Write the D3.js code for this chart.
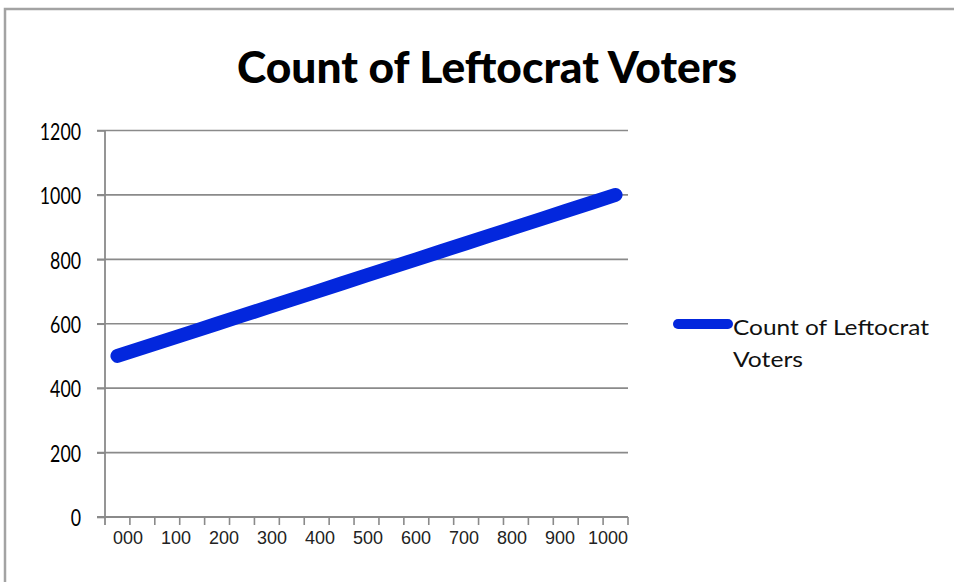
<!DOCTYPE html>
<html>
<head>
<meta charset="utf-8">
<script src="https://cdn.jsdelivr.net/npm/d3@7"></script>
<style>
  html, body { margin: 0; padding: 0; background: #fff; }
  svg { display: block; }
</style>
</head>
<body>
<svg id="chart" width="954" height="582"></svg>
<script>
// Series: one reading per step along the category axis
const steps = [0, 1, 2, 3, 4, 5, 6, 7, 8, 9, 10, 11, 12, 13, 14, 15, 16, 17, 18, 19, 20];
const voters = [500, 525, 550, 575, 600, 625, 650, 675, 700, 725, 750,
                775, 800, 825, 850, 875, 900, 925, 950, 975, 1000];
// Category axis labels
const xLabels = ["000", "100", "200", "300", "400", "500", "600", "700", "800", "900", "1000"];
// Value axis ticks
const yTicks = [0, 200, 400, 600, 800, 1000, 1200];
const titleText = "Count of Leftocrat Voters";
const legendLines = ["Count of Leftocrat", "Voters"];

const svg = d3.select("#chart");
const blue = "#0327dd";
const gridColor = "#8a8a8a";

// outer frame
svg.append("rect")
  .attr("x", 5).attr("y", 9)
  .attr("width", 970).attr("height", 600)
  .attr("fill", "none")
  .attr("stroke", "#a3a3a3")
  .attr("stroke-width", 2.5);

const plot = { left: 105, right: 628, top: 130.5, bottom: 517 };

const x = d3.scaleBand().domain(steps).range([plot.left, plot.right]);
const xLab = d3.scalePoint().domain(xLabels).range([128, 608]);
const y = d3.scaleLinear().domain([0, 1200]).range([plot.bottom, plot.top]);

// title
svg.append("text")
  .attr("x", 487).attr("y", 83)
  .attr("text-anchor", "middle")
  .attr("font-family", "Lato, 'Open Sans', sans-serif")
  .attr("font-weight", 900)
  .attr("font-size", 43)
  .attr("textLength", 500)
  .attr("lengthAdjust", "spacingAndGlyphs")
  .attr("fill", "#000")
  .text(titleText);

// horizontal gridlines
svg.append("g")
  .selectAll("line")
  .data(yTicks.filter(d => d > 0))
  .join("line")
  .attr("x1", plot.left - 8).attr("x2", plot.right)
  .attr("y1", d => y(d)).attr("y2", d => y(d))
  .attr("stroke", gridColor)
  .attr("stroke-width", 1.6);

// value axis
const yAxis = svg.append("g")
  .attr("transform", `translate(${plot.left},0)`)
  .call(d3.axisLeft(y).tickValues(yTicks).tickFormat(d3.format("d")).tickSize(8).tickPadding(16));
yAxis.select(".domain").remove();
yAxis.append("line")
  .attr("x1", 0).attr("x2", 0)
  .attr("y1", plot.top).attr("y2", plot.bottom + 8)
  .attr("stroke", gridColor).attr("stroke-width", 1.8);
yAxis.selectAll(".tick line").attr("stroke", gridColor).attr("stroke-width", 1.6);
yAxis.selectAll(".tick text")
  .attr("font-family", "Lato, 'Open Sans', sans-serif")
  .attr("font-size", 23)
  .attr("textLength", d => String(d).length * 10.3)
  .attr("lengthAdjust", "spacingAndGlyphs")
  .attr("fill", "#000")
  .attr("dy", "0.38em");

// category axis line and tick marks at band edges
const xEdges = steps.map(s => x(s)).concat([plot.right]);
svg.append("line")
  .attr("x1", plot.left - 8).attr("x2", plot.right)
  .attr("y1", plot.bottom).attr("y2", plot.bottom)
  .attr("stroke", gridColor).attr("stroke-width", 1.8);
svg.append("g")
  .selectAll("line")
  .data(xEdges.slice(1))
  .join("line")
  .attr("x1", d => d).attr("x2", d => d)
  .attr("y1", plot.bottom).attr("y2", plot.bottom + 8)
  .attr("stroke", gridColor).attr("stroke-width", 1.6);

// category labels
svg.append("g")
  .selectAll("text")
  .data(xLabels)
  .join("text")
  .attr("x", d => xLab(d))
  .attr("y", 544)
  .attr("text-anchor", "middle")
  .attr("font-family", "'Liberation Sans', Arial, sans-serif")
  .attr("font-size", 18.5)
  .attr("textLength", d => d.length * 10)
  .attr("lengthAdjust", "spacingAndGlyphs")
  .attr("fill", "#222")
  .text(d => d);

// series line
const line = d3.line()
  .x((d, i) => x(steps[i]) + x.bandwidth() / 2)
  .y(d => y(d));
svg.append("path")
  .datum(voters)
  .attr("d", line)
  .attr("fill", "none")
  .attr("stroke", blue)
  .attr("stroke-width", 14)
  .attr("stroke-linecap", "round")
  .attr("stroke-linejoin", "round");

// legend
const legend = svg.append("g");
legend.append("line")
  .attr("x1", 678).attr("x2", 728)
  .attr("y1", 324).attr("y2", 324)
  .attr("stroke", blue)
  .attr("stroke-width", 10)
  .attr("stroke-linecap", "round");
const legendWidths = [196, 70];
legend.selectAll("text")
  .data(legendLines)
  .join("text")
  .attr("x", 733)
  .attr("y", (d, i) => 335 + i * 32)
  .attr("font-family", "Lato, 'Open Sans', sans-serif")
  .attr("font-size", 22)
  .attr("textLength", (d, i) => legendWidths[i])
  .attr("lengthAdjust", "spacingAndGlyphs")
  .attr("fill", "#111")
  .text(d => d);
</script>
</body>
</html>
